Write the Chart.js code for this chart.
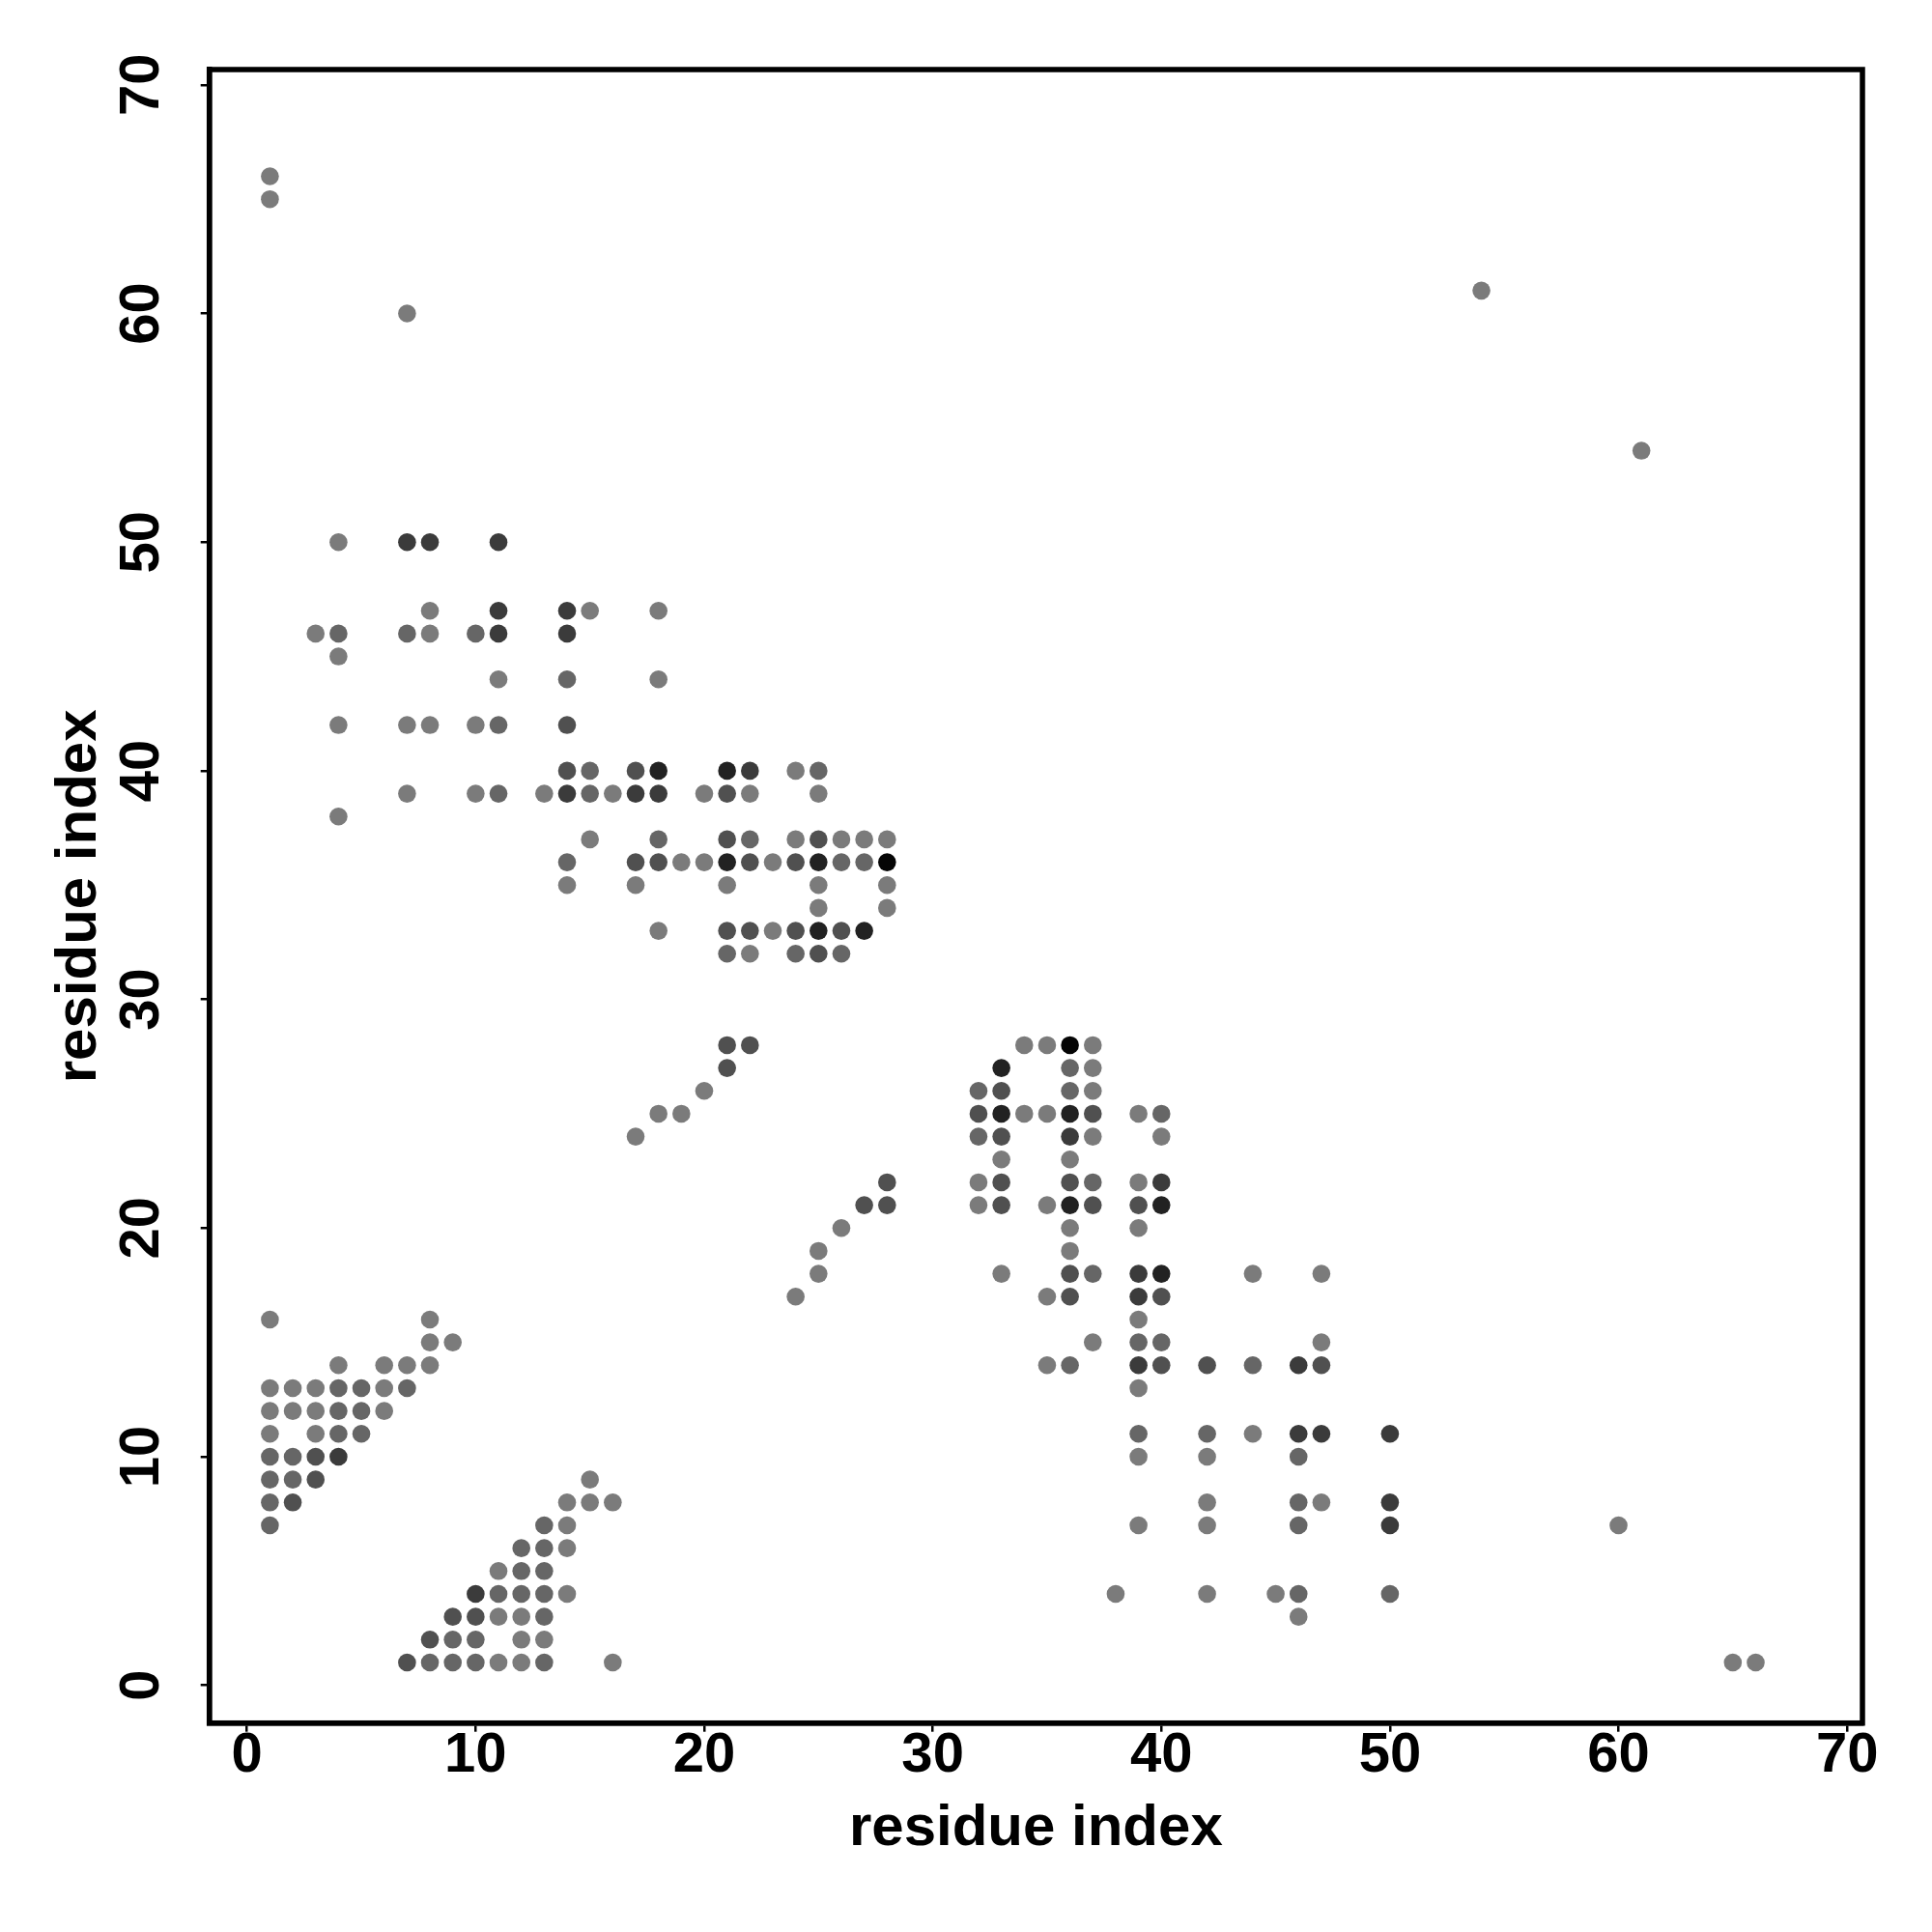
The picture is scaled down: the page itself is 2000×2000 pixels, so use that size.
<!DOCTYPE html>
<html>
<head>
<meta charset="utf-8">
<script src="https://cdn.jsdelivr.net/npm/chart.js@4.4.1/dist/chart.umd.min.js"></script>
<style>
  html, body { margin: 0; padding: 0; background: #fff; }
  canvas { display: block; }
</style>
</head>
<body>
<canvas id="contactMap" width="2000" height="2000"></canvas>
<script>
// contact pairs [residue i, residue j], grouped by how dark the dot is (light -> black)
const shade0 = [
  [1,16],[8,16],[8,15],[9,15],[4,14],[6,14],[7,14],[8,14],[1,13],[2,13],[3,13],[6,13],
  [1,12],[2,12],[3,12],[6,12],[1,11],[3,11],[15,9],[14,8],[15,8],[16,8],[14,7],[14,6],
  [11,5],[14,4],[11,3],[12,3],[12,2],[13,2],[11,1],[12,1],[16,1],
  [1,66],[1,65],[7,60],[54,61],[61,54],[60,7],[65,1],[66,1],
  [4,50],[8,47],[15,47],[18,47],[3,46],[8,46],[4,45],[11,44],[18,44],
  [4,42],[7,42],[8,42],[10,42],[24,40],
  [7,39],[10,39],[13,39],[16,39],[20,39],[22,39],[25,39],[4,38],
  [15,37],[24,37],[26,37],[27,37],[28,37],[19,36],[20,36],[23,36],
  [14,35],[17,35],[21,35],[25,35],[28,35],[25,34],[28,34],[18,33],[23,33],[22,32],
  [20,26],[18,25],[19,25],[17,24],[26,20],[25,19],[25,18],[24,17],
  [34,28],[35,28],[37,28],[37,27],[37,26],[34,25],[35,25],[39,25],[37,24],[40,24],
  [33,23],[36,23],[32,22],[39,22],[32,21],[35,21],[36,20],[39,20],[36,19],
  [33,18],[44,18],[47,18],[35,17],[39,16],[37,15],[47,15],[35,14],[39,13],
  [44,11],[39,10],[42,10],[42,8],[47,8],[39,7],[42,7],[38,4],[42,4],[45,4],[46,3]
];
const shade1 = [
  [4,13],[5,13],[7,13],[4,12],[5,12],[4,11],[5,11],[1,10],[2,10],[1,9],[2,9],[1,8],[1,7],
  [13,7],[12,6],[13,6],[12,5],[13,5],[11,4],[12,4],[13,4],[13,3],[9,2],[10,2],
  [8,1],[9,1],[10,1],[13,1],
  [4,46],[7,46],[10,46],[14,44],[11,42],[15,40],[25,40],[11,39],[15,39],
  [18,37],[22,37],[14,36],[26,36],[27,36],[21,32],[24,32],[26,32],
  [36,27],[32,26],[36,26],[40,25],[32,24],[37,22],[37,18],[39,15],[40,15],
  [36,14],[44,14],[39,11],[42,11],[46,10],[46,8],[46,7],[46,4],[50,4]
];
const shade2 = [
  [3,10],[3,9],[2,8],[9,3],[10,3],[8,2],[7,1],
  [14,42],[14,40],[17,40],[21,39],[21,37],[25,37],[17,36],[18,36],[22,36],[24,36],
  [21,33],[22,33],[24,33],[26,33],[25,32],
  [21,28],[22,28],[21,27],[28,22],[27,21],[28,21],
  [33,26],[32,25],[37,25],[33,24],[33,22],[36,22],[33,21],[37,21],[39,21],
  [36,18],[36,17],[40,17],[40,14],[42,14],[47,14]
];
const shade3 = [
  [4,10],[10,4],
  [7,50],[8,50],[11,50],[11,47],[14,47],[11,46],[14,46],[22,40],
  [14,39],[17,39],[18,39],
  [36,24],[40,22],[39,18],[39,17],[39,14],[46,14],
  [46,11],[47,11],[50,11],[50,8],[50,7]
];
const shade4 = [
  [18,40],[21,40],[21,36],[25,36],[25,33],[27,33],
  [33,27],[33,25],[36,25],[36,21],[40,21],[40,18]
];
const shade5 = [[28,36],[36,28]];

const shadeGroups = [shade0, shade1, shade2, shade3, shade4, shade5];
const shadeColors = ['#7b7b7b', '#666666', '#505050', '#3b3b3b', '#222222', '#050505'];

const axisRange = [-1.65, 70.67];
const tickStep = 10;
const axisTitle = 'residue index';

const FONT = '"Liberation Sans", Arial, Helvetica, sans-serif';

// R-style closed box around the plot region
const boxPlugin = {
  id: 'box',
  afterDraw(chart) {
    const a = chart.chartArea;
    const c = chart.ctx;
    c.save();
    c.strokeStyle = '#000';
    c.lineWidth = 5.5;
    c.lineJoin = 'miter';
    c.strokeRect(a.left, a.top, a.right - a.left, a.bottom - a.top);
    c.restore();
  }
};

const datasets = shadeGroups.map((pts, i) => ({
  label: 'shade ' + i,
  data: pts.map(p => ({ x: p[0], y: p[1] })),
  backgroundColor: shadeColors[i],
  borderWidth: 0,
  pointRadius: 9.3,
  pointHoverRadius: 9.3
}));

new Chart(document.getElementById('contactMap').getContext('2d'), {
  type: 'scatter',
  data: { datasets },
  options: {
    responsive: false,
    animation: false,
    devicePixelRatio: 1,
    layout: { padding: { top: 72, right: 72, left: 0, bottom: 0 } },
    plugins: { legend: { display: false }, tooltip: { enabled: false } },
    scales: {
      x: {
        type: 'linear',
        min: axisRange[0],
        max: axisRange[1],
        afterFit: s => { s.height = 216.3; },
        ticks: {
          stepSize: tickStep,
          includeBounds: false,
          color: '#000',
          padding: 2,
          font: { family: FONT, size: 58, weight: 'bold', lineHeight: 0.8 }
        },
        grid: { drawOnChartArea: false, drawTicks: true, tickLength: 9, color: '#000', lineWidth: 2.5 },
        border: { display: true, color: '#000', width: 5.5 },
        title: {
          display: true,
          text: axisTitle,
          color: '#000',
          padding: { top: 0, bottom: 71 },
          font: { family: FONT, size: 60, weight: 'bold' }
        }
      },
      y: {
        type: 'linear',
        min: axisRange[0],
        max: axisRange[1],
        afterFit: s => { s.width = 216.7; },
        ticks: {
          stepSize: tickStep,
          includeBounds: false,
          color: '#000',
          padding: 27,
          minRotation: 90,
          maxRotation: 90,
          crossAlign: 'center',
          font: { family: FONT, size: 58, weight: 'bold' }
        },
        grid: { drawOnChartArea: false, drawTicks: true, tickLength: 9, color: '#000', lineWidth: 2.5 },
        border: { display: true, color: '#000', width: 5.5 },
        title: {
          display: true,
          text: axisTitle,
          color: '#000',
          padding: { top: 46, bottom: 0 },
          font: { family: FONT, size: 60, weight: 'bold' }
        }
      }
    }
  },
  plugins: [boxPlugin]
});
</script>
</body>
</html>
